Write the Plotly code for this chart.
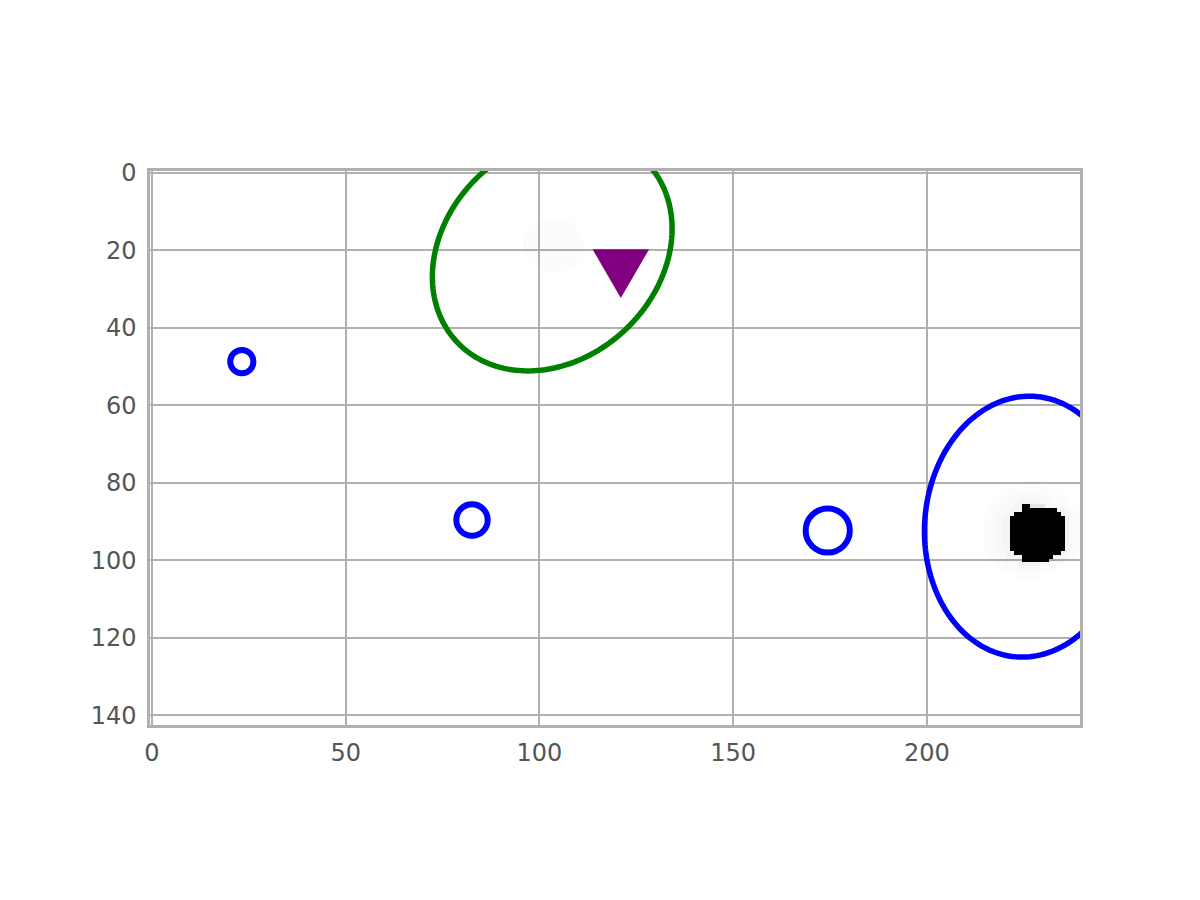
import numpy as np
import plotly.graph_objects as go

# image size (columns, rows)
img_w = 240
img_h = 143

# bright blob: rows 80..104, columns 214..239
# ' ' empty, ',' faintest, '.' faint, ':' light, '+' grey, '#' saturated
blob_row0 = 80
blob_col0 = 214
blob_rows = [
    "           ,,,,           ",
    "        ,,,,,,,,,,        ",
    "      ,,,,,,,,,,,,,,      ",
    "     ,,,,,......,,,,,     ",
    "    ,,,,..........,,,,    ",
    "   ,,,,...::::::...,,,,   ",
    "   ,,,...::##++++...,,    ",
    "  ,,,...:::#########::.,, ",
    "  ,,...::############:..,,",
    " ,,,..::##############:.,,",
    " ,,,..::##############:.,,",
    " ,,,..::##############:.,,",
    " ,,,..::##############:.,,",
    " ,,,..::##############:.,,",
    " ,,,..::##############:.,,",
    " ,,,..::##############:.,,",
    " ,,,..::##############:.,,",
    " ,,,..::##############:.,,",
    "  ,,...::############:..,,",
    "  ,,,..::::########::..,, ",
    "   ,,,...::#######:::..,, ",
    "    ,,,...::::::...,,,    ",
    "     ,,,,.......,,,,,     ",
    "       ,,,,,,,,,,,,       ",
    "         ,,,,,,,          ",
]

# faint blob near the top: rows 12..25, columns 95..112
faint_row0 = 12
faint_col0 = 95
faint_rows = [
    "      ,,,,,,      ",
    "    ,,,,,,,,,,    ",
    "   ,,,,,,,,,,,,   ",
    "  ,,,,,,,,,,,,,,  ",
    "  ,,,,,,,,,,,,,,  ",
    " ,,,,,,,,,,,,,,,, ",
    " ,,,,,,,,,,,,,,,, ",
    " ,,,,,,,,,,,,,,,, ",
    " ,,,,,,,,,,,,,,,, ",
    "  ,,,,,,,,,,,,,,  ",
    "  ,,,,,,,,,,,,,,  ",
    "   ,,,,,,,,,,,,   ",
    "    ,,,,,,,,,,    ",
    "      ,,,,,,      ",
]
levels = {" ": None, ",": 0.01, ".": 0.022, ":": 0.045, "+": 0.1, "#": 1.0}

# fitted ellipses: centre, semi-axis along / across, rotation (deg, on screen)
ell_x = [103.3, 225.5]
ell_y = [20.6, 91.3]
ell_a = [33.7, 26.1]
ell_b = [27.4, 33.7]
ell_angle = [43, -4]

# detections
circ_x = [23.2, 82.6, 174.4]
circ_y = [48.7, 89.6, 92.3]
circ_r = [3.0, 4.05, 5.7]

# peak marker
peak_x = [121.0]
peak_y = [26.0]

ell_colors = ["green", "blue"]


def to_z(rows):
    return [[levels[c] for c in r] for r in rows]


def ellipse_path(cx, cy, a, b, angle, n=180):
    t = np.linspace(0, 2 * np.pi, n)
    phi = np.radians(angle)
    xs = cx + a * np.cos(t) * np.cos(phi) - b * np.sin(t) * np.sin(phi)
    # y axis points down, so flip the rotation sign
    ys = cy - (a * np.cos(t) * np.sin(phi) + b * np.sin(t) * np.cos(phi))
    pts = " L ".join(f"{x:.3f},{y:.3f}" for x, y in zip(xs, ys))
    return "M " + pts + " Z"


fig = go.Figure()
# alpha ramp so the grid still shows through the light parts
grey = [[0, "rgba(0,0,0,0)"], [1, "rgba(0,0,0,1)"]]
fig.add_trace(go.Heatmap(z=to_z(faint_rows), x0=faint_col0, dx=1, y0=faint_row0, dy=1,
                         colorscale=grey, zmin=0, zmax=1, showscale=False, hoverinfo="skip"))
fig.add_trace(go.Heatmap(z=to_z(blob_rows), x0=blob_col0, dx=1, y0=blob_row0, dy=1,
                         colorscale=grey, zmin=0, zmax=1, showscale=False, hoverinfo="skip"))

shapes = []
for cx, cy, a, b, ang, col in zip(ell_x, ell_y, ell_a, ell_b, ell_angle, ell_colors):
    shapes.append(dict(type="path", xref="x", yref="y", path=ellipse_path(cx, cy, a, b, ang),
                       line=dict(color=col, width=5.5)))
for cx, cy, r in zip(circ_x, circ_y, circ_r):
    shapes.append(dict(type="circle", xref="x", yref="y", x0=cx - r, x1=cx + r,
                       y0=cy - r, y1=cy + r, line=dict(color="blue", width=6)))

# downward triangle, half width / height in data units
tri_hw, tri_h = 7.3, 12.6
for px, py in zip(peak_x, peak_y):
    top = py - tri_h / 2
    shapes.append(dict(type="path", xref="x", yref="y",
                       path=f"M {px - tri_hw},{top} L {px + tri_hw},{top} L {px},{top + tri_h} Z",
                       fillcolor="purple", line=dict(width=0)))

# the page body adds 8px, so margins are shifted to keep the plot area in place
fig.update_layout(
    width=1200, height=900,
    margin=dict(l=142, r=128, t=163, b=183),
    paper_bgcolor="white", plot_bgcolor="white",
    shapes=shapes,
    showlegend=False,
    font=dict(family="DejaVu Sans", size=24, color="#555555"),
)
axis_style = dict(showgrid=True, gridcolor="#b0b0b0", gridwidth=1.8, zeroline=False,
                  showline=True, linecolor="#b0b0b0", linewidth=2.5, mirror=True,
                  ticks="")
fig.update_xaxes(range=[-0.5, img_w - 0.5], tick0=0, dtick=50, ticklabelstandoff=4, **axis_style)
fig.update_yaxes(range=[img_h - 0.5, -0.5], tick0=0, dtick=20, ticklabelstandoff=6, **axis_style)

fig.write_html("out.html")
